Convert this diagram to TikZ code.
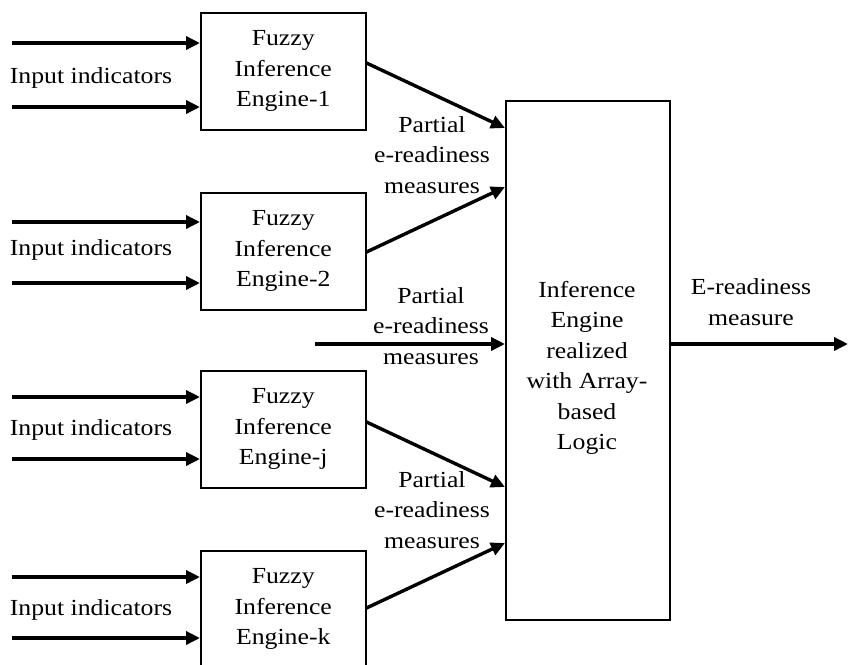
\documentclass[tikz,border=0pt]{standalone}
\usepackage{fontspec}
\setmainfont{Liberation Serif}[FakeStretch=1.12]
\usetikzlibrary{arrows.meta,calc}
\begin{document}
\begin{tikzpicture}[x=1pt,y=-1pt,
  every node/.style={font=\fontsize{23}{30.5}\selectfont, inner sep=0pt},
  fbox/.style={draw, line width=1.5pt, minimum width=165pt, minimum height=117pt, align=center, anchor=north west},
  arr/.style={line width=3.4pt, -{Triangle[length=14pt,width=13pt]}},
  lbl/.style={align=center}]
\useasboundingbox (0,0) rectangle (848,664);
% fuzzy boxes
\node[fbox] (b1) at (200,12) {Fuzzy\\Inference\\Engine-1};
\node[fbox] (b2) at (200,192) {Fuzzy\\Inference\\Engine-2};
\node[fbox] (bj) at (200,370) {Fuzzy\\Inference\\Engine-j};
\node[fbox] (bk) at (200,550) {Fuzzy\\Inference\\Engine-k};
% big box
\node[draw, line width=1.5pt, minimum width=164pt, minimum height=519pt, anchor=north west] (big) at (505,100) {};
\node[lbl] (bigt) at (587,368) {Inference\\Engine\\realized\\with Array-\\based\\Logic};
% input labels
\node (l1) at (91,78) {Input indicators};
\node (l2) at (91,250) {Input indicators};
\node (lj) at (91,430) {Input indicators};
\node (lk) at (91,610) {Input indicators};
% input arrows
\coordinate (i1a) at (12,43); \coordinate (i1b) at (12,107);
\coordinate (i2a) at (12,222); \coordinate (i2b) at (12,283);
\coordinate (ija) at (12,397); \coordinate (ijb) at (12,459);
\coordinate (ika) at (12,577); \coordinate (ikb) at (12,638);
\foreach \c/\b in {i1a/b1,i1b/b1,i2a/b2,i2b/b2,ija/bj,ijb/bj,ika/bk,ikb/bk}
  \draw[arr] (\c) -- (\c -| \b.west);
% partial outputs
\draw[arr] ($(b1.north east)+(0,51)$) -- ($(big.north west)+(0,28)$);
\draw[arr] ($(b2.north east)+(0,60)$) -- ($(big.north west)+(0,87)$);
\draw[arr] ($(bj.north east)+(0,52)$) -- ($(big.north west)+(0,387)$);
\draw[arr] ($(bk.north east)+(0,58)$) -- ($(big.north west)+(0,443)$);
\coordinate (mid) at (315,344);
\draw[arr] (mid) -- (mid -| big.west);
% partial labels
\node[lbl] (p1) at (432,155) {Partial\\e-readiness\\measures};
\node[lbl] (p2) at (431,326) {Partial\\e-readiness\\measures};
\node[lbl] (p3) at (432,510) {Partial\\e-readiness\\measures};
% output
\coordinate (out) at (848,344);
\draw[arr] (big.east |- out) -- (out);
\node[lbl] (ol) at (751,302) {E-readiness\\measure};
\end{tikzpicture}
\end{document}
